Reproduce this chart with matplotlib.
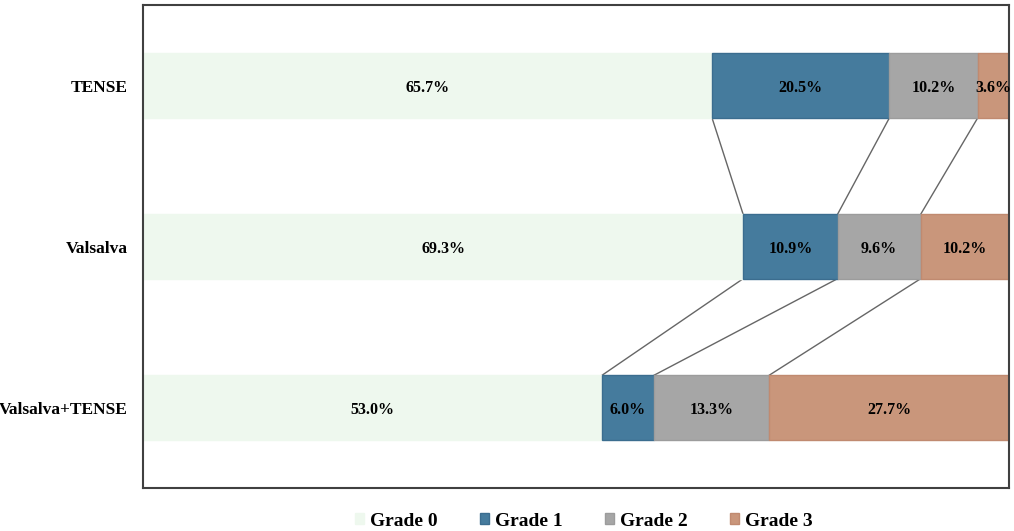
import numpy as np
import matplotlib.pyplot as plt

plt.rcParams['font.family'] = ['Liberation Serif', 'DejaVu Serif']
plt.rcParams['font.weight'] = 'bold'

# data
categories = ['TENSE', 'Valsalva', 'Valsalva+TENSE']
grades = ['Grade 0', 'Grade 1', 'Grade 2', 'Grade 3']
grade0 = [65.7, 69.3, 53.0]
grade1 = [20.5, 10.9, 6.0]
grade2 = [10.2, 9.6, 13.3]
grade3 = [3.6, 10.2, 27.7]

colors = ['#eef8ee', '#457b9d', '#a6a6a6', '#c9967b']
edges = ['#eef8ee', '#3b6d8f', '#9c9c9c', '#c08a70']

values = np.array([grade0, grade1, grade2, grade3])
y = np.arange(len(categories))
bar_h = 0.4

fig = plt.figure(figsize=(10.14, 5.31), dpi=100)
ax = fig.add_axes([143 / 1014, 1 - 488 / 531, (1009 - 143) / 1014, (488 - 5) / 531])

left = np.zeros(len(categories))
for i, g in enumerate(grades):
    ax.barh(y, values[i], left=left, height=bar_h, color=colors[i],
            edgecolor=edges[i], linewidth=1, label=g, zorder=2)
    for j in range(len(categories)):
        ax.text(left[j] + values[i][j] / 2, y[j], f'{values[i][j]:.1f}%',
                ha='center', va='center_baseline', fontsize=11.5,
                fontweight='bold', zorder=3)
    left = left + values[i]

# series lines between bars
cum = np.cumsum(values, axis=0)
for k in range(3):
    for j in range(len(categories) - 1):
        ax.plot([cum[k][j], cum[k][j + 1]], [y[j] + bar_h / 2, y[j + 1] - bar_h / 2],
                color='#666666', linewidth=1, zorder=1)

ax.set_xlim(0, 100)
ax.set_ylim(2.5, -0.5)
ax.set_xticks([])
ax.set_yticks(y)
ax.set_yticklabels(categories, fontsize=12.5, fontweight='bold')
ax.tick_params(axis='y', length=0, pad=11)
for s in ax.spines.values():
    s.set_color('#404040')
    s.set_linewidth(1.5)

fig.legend(loc='center', bbox_to_anchor=(584 / 1014, 1 - 521 / 531), ncol=4,
           frameon=False, handlelength=0.45, handleheight=0.45,
           handletextpad=0.3, columnspacing=2.2, prop={'weight': 'bold', 'size': 14})

fig.savefig('out.png', dpi=100)
